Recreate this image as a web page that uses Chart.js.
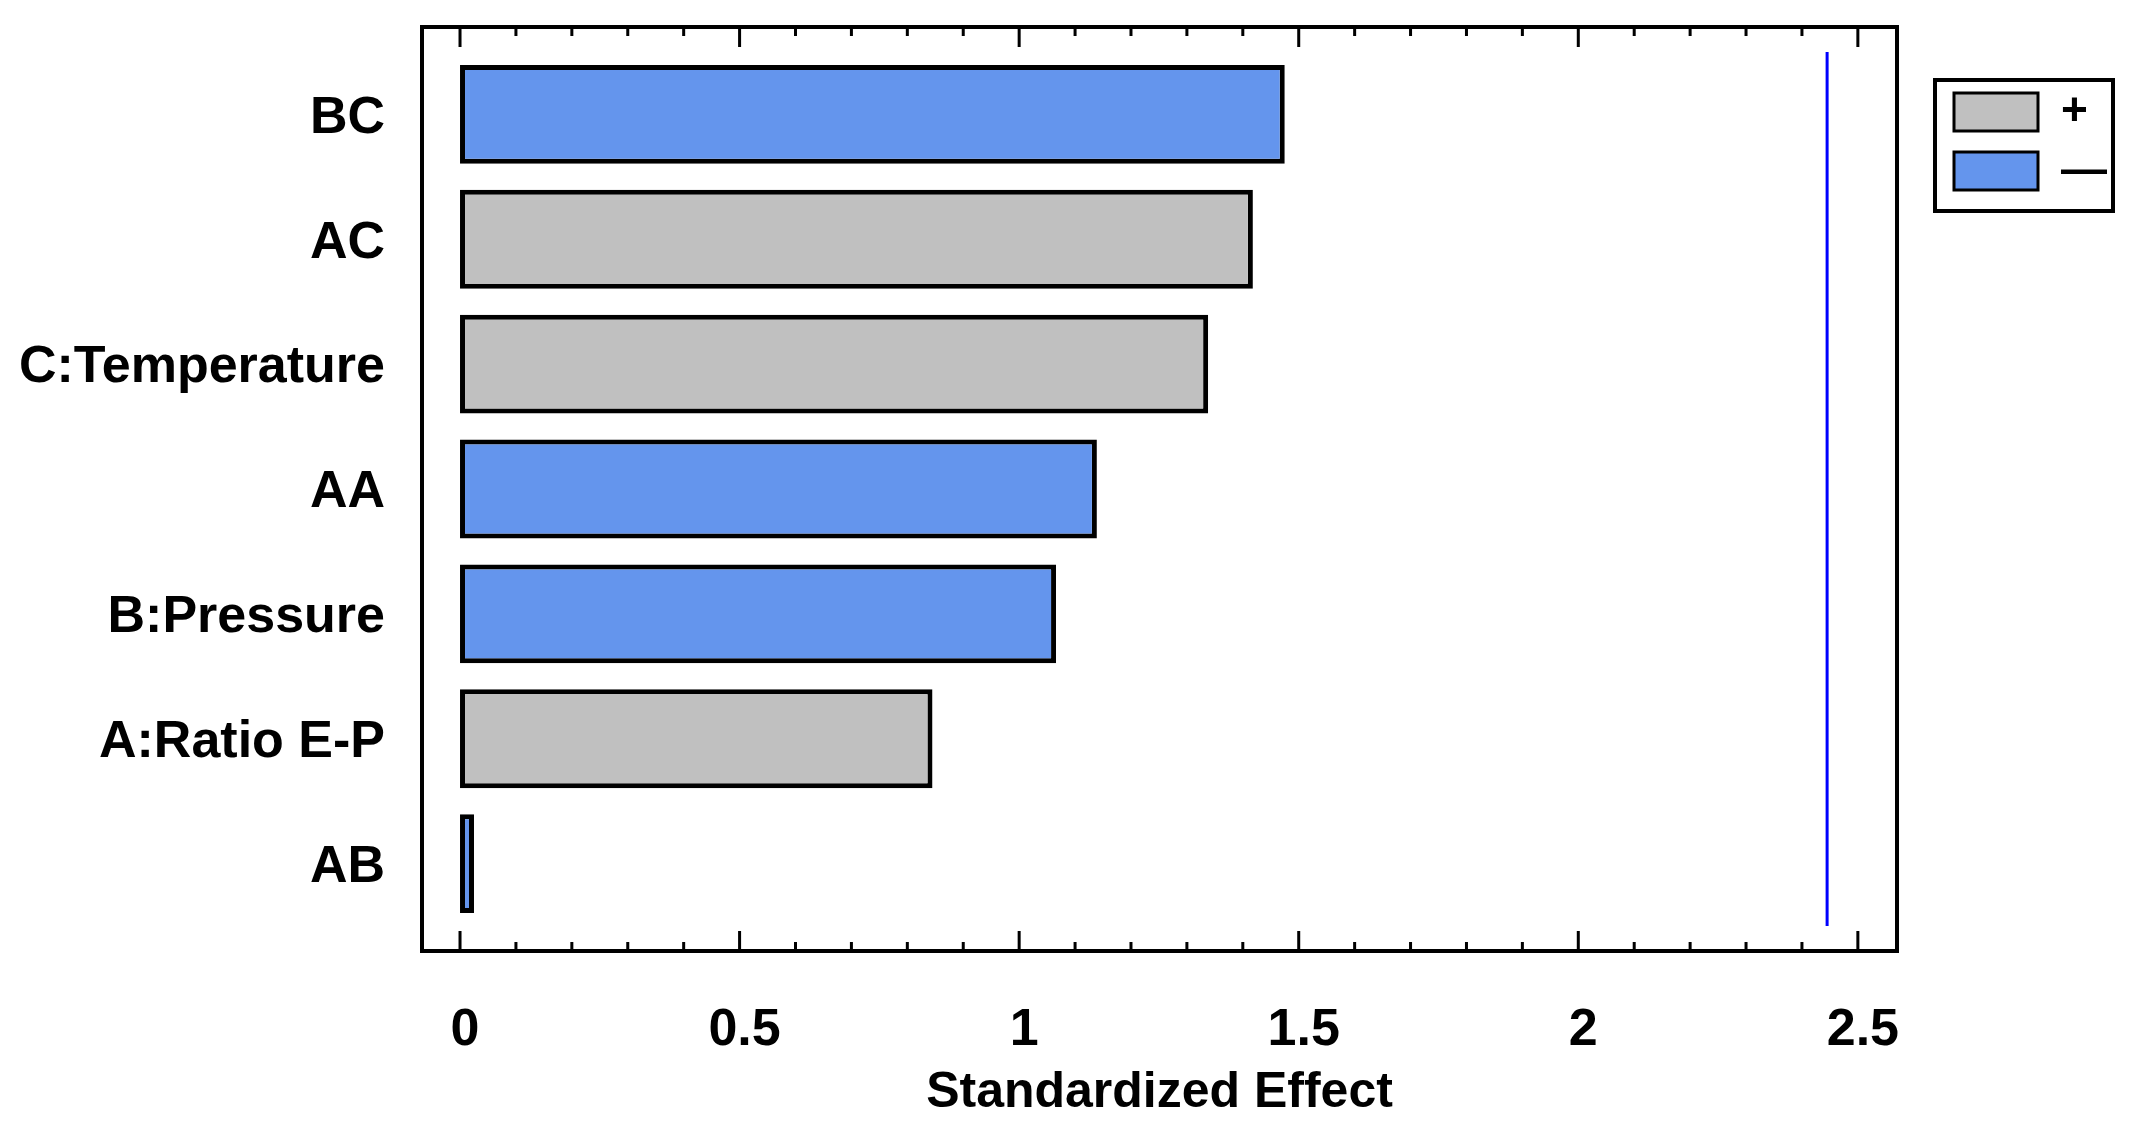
<!DOCTYPE html>
<html>
<head>
<meta charset="utf-8">
<script src="https://cdn.jsdelivr.net/npm/chart.js@4.4.1/dist/chart.umd.min.js"></script>
<style>
  html, body { margin: 0; padding: 0; background: #fff; }
  #wrap { width: 2133px; height: 1139px; position: relative; }
</style>
</head>
<body>
<div id="wrap"><canvas id="myChart"></canvas></div>
<script>
// Pareto chart data, top to bottom
var categories = ["BC", "AC", "C:Temperature", "AA", "B:Pressure", "A:Ratio E-P", "AB"];
var effects = [1.475, 1.418, 1.338, 1.139, 1.066, 0.845, 0.025];
var signs = ["-", "+", "+", "-", "-", "+", "-"];
var xTicks = [0, 0.5, 1, 1.5, 2, 2.5];
var criticalValue = 2.445;

var grayColor = "#C0C0C0";
var blueColor = "#6495ED";
var fontFamily = "'Liberation Sans', Arial, sans-serif";

var framePlugin = {
  id: "frame",
  afterDraw: function (chart) {
    var ctx = chart.ctx;
    var a = chart.chartArea;
    var xs = chart.scales.x;
    ctx.save();
    ctx.strokeStyle = "#000";

    // inward tick marks on bottom and top
    ctx.lineWidth = 3;
    for (var i = 0; i <= 25; i++) {
      var px = xs.getPixelForValue(i / 10);
      var len = i % 5 === 0 ? 20 : 9;
      ctx.beginPath();
      ctx.moveTo(px, a.bottom);
      ctx.lineTo(px, a.bottom - len);
      ctx.moveTo(px, a.top);
      ctx.lineTo(px, a.top + len);
      ctx.stroke();
    }

    // plot frame
    ctx.lineWidth = 4;
    ctx.strokeRect(a.left, a.top, a.right - a.left, a.bottom - a.top);

    // legend frame
    var hb = chart.legend.legendHitBoxes;
    if (hb && hb.length) {
      var first = hb[0];
      var last = hb[hb.length - 1];
      var x0 = first.left - 19;
      var y0 = first.top - 9;
      var x1 = first.left + 159;
      var y1 = last.top + last.height + 17;
      ctx.lineWidth = 4;
      ctx.strokeRect(x0, y0, x1 - x0, y1 - y0);
    }
    ctx.restore();
  },
};

const ctx = document.getElementById("myChart");

new Chart(ctx, {
  type: "bar",
  data: {
    datasets: [
      {
        type: "bar",
        label: "effect",
        data: effects.map(function (v, i) {
          return { x: v, y: i };
        }),
        backgroundColor: signs.map(function (s) {
          return s === "+" ? grayColor : blueColor;
        }),
        borderColor: "#000",
        borderWidth: 5,
        borderSkipped: false,
        barPercentage: 0.8,
        categoryPercentage: 0.99,
        xAxisID: "x",
        yAxisID: "y",
      },
      {
        type: "line",
        label: "critical",
        data: [
          { x: criticalValue, y: -0.5 },
          { x: criticalValue, y: categories.length - 0.5 },
        ],
        borderColor: "#0000FF",
        borderWidth: 3,
        pointRadius: 0,
        fill: false,
        xAxisID: "x",
        yAxisID: "y",
      },
    ],
  },
  options: {
    indexAxis: "y",
    responsive: true,
    maintainAspectRatio: false,
    animation: false,
    layout: {
      padding: { top: 27, left: 0, right: 16, bottom: 0 },
    },
    plugins: {
      tooltip: { enabled: false },
      legend: {
        position: "right",
        align: "start",
        onClick: null,
        title: {
          display: true,
          text: " ",
          font: { size: 10, lineHeight: 1 },
          padding: { top: 39, bottom: 0 },
        },
        labels: {
          boxWidth: 84,
          boxHeight: 38,
          padding: 13,
          color: "#000",
          useBorderRadius: true,
          borderRadius: 3,
          font: { family: fontFamily, size: 46, weight: "bold" },
          generateLabels: function () {
            return [
              { text: "+", fillStyle: grayColor, strokeStyle: "#000", fontColor: "#000", lineWidth: 3, hidden: false, datasetIndex: 0 },
              { text: "\u2014", fillStyle: blueColor, strokeStyle: "#000", fontColor: "#000", lineWidth: 3, hidden: false, datasetIndex: 0 },
            ];
          },
        },
      },
    },
    scales: {
      x: {
        type: "linear",
        position: "bottom",
        min: -0.068,
        max: 2.57,
        grid: { display: false, drawTicks: false },
        border: { display: false },
        afterBuildTicks: function (scale) {
          scale.ticks = xTicks.map(function (v) {
            return { value: v };
          });
        },
        afterFit: function (scale) {
          scale.height = 188;
          scale.paddingLeft = 0;
          scale.paddingRight = 0;
        },
        ticks: {
          padding: 48,
          labelOffset: 5,
          color: "#000",
          maxRotation: 0,
          font: { family: fontFamily, size: 52, weight: "bold" },
          callback: function (v) {
            return String(v);
          },
        },
        title: {
          display: true,
          text: "Standardized Effect",
          color: "#000",
          font: { family: fontFamily, size: 50, weight: "bold" },
          padding: { top: 0, bottom: 16 },
        },
      },
      y: {
        type: "linear",
        position: "left",
        reverse: true,
        offset: false,
        min: -0.7,
        max: categories.length - 0.3,
        grid: { display: false, drawTicks: false, offset: false },
        border: { display: false },
        afterBuildTicks: function (scale) {
          scale.ticks = categories.map(function (c, i) {
            return { value: i };
          });
        },
        afterFit: function (scale) {
          scale.width = 422;
          scale.paddingTop = 0;
          scale.paddingBottom = 0;
        },
        ticks: {
          padding: 37,
          labelOffset: 4,
          color: "#000",
          font: { family: fontFamily, size: 52, weight: "bold" },
          callback: function (v) {
            return categories[v];
          },
        },
      },
      yr: {
        type: "linear",
        position: "right",
        display: true,
        grid: { display: false, drawTicks: false },
        border: { display: false },
        ticks: { display: false },
        afterFit: function (scale) {
          scale.width = 44;
          scale.paddingTop = 0;
          scale.paddingBottom = 0;
        },
      },
    },
  },
  plugins: [framePlugin],
});
</script>
</body>
</html>
